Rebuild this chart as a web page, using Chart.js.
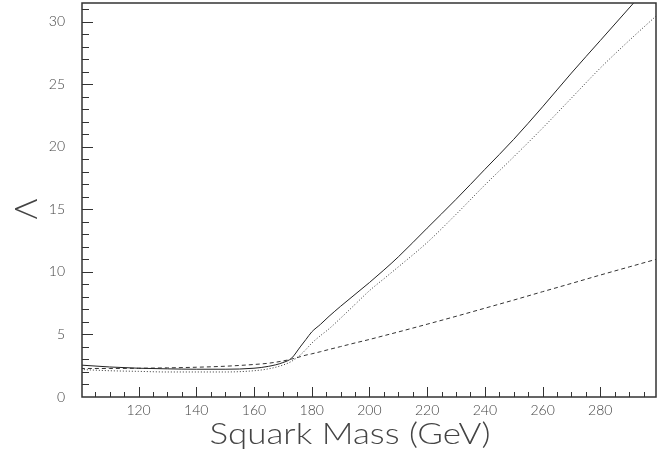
<!DOCTYPE html>
<html><head><meta charset="utf-8">
<script src="https://cdn.jsdelivr.net/npm/chart.js@4/dist/chart.umd.min.js"></script>
<style>html,body{margin:0;padding:0;background:#fff}canvas{display:block}</style>
</head><body>
<canvas id="c" width="672" height="462"></canvas>
<script>
// ---- data ----
const squarkMass   = [100,110,120,130,140,150,160,165,170,173,176,178,180,183,186,190,195,200,205,210,220,230,240,250,260,270,280,290,300];
const lambdaSolid  = [2.55,2.4,2.3,2.25,2.22,2.22,2.3,2.45,2.75,3.1,4.0,4.6,5.2,5.8,6.45,7.25,8.2,9.15,10.15,11.2,13.5,15.8,18.2,20.6,23.2,25.9,28.5,31.1,33.7];
const lambdaDotted = [2.2,2.1,2.05,2.0,2.0,2.0,2.1,2.25,2.55,2.85,3.35,3.8,4.3,4.9,5.45,6.3,7.4,8.5,9.45,10.4,12.35,14.6,16.95,19.2,21.5,23.9,26.3,28.5,30.6];
const lambdaDashed = [2.28,2.28,2.3,2.33,2.38,2.46,2.6,2.7,2.88,3.03,3.22,3.35,3.45,3.62,3.8,4.03,4.32,4.6,4.9,5.2,5.82,6.45,7.1,7.75,8.42,9.08,9.75,10.4,11.05];
const xTickLabels  = [120,140,160,180,200,220,240,260,280];
const yTickLabels  = [0,5,10,15,20,25,30];
const xTitle = 'Squark Mass (GeV)';
const yTitle = 'Λ';

const FONT = 'Lato, "Open Sans", sans-serif';
const pts = arr => squarkMass.map((m, i) => ({x: m, y: arr[i]}));

const framePlugin = {
  id: 'frame',
  afterDraw(chart) {
    const ctx = chart.ctx, ca = chart.chartArea;
    const xs = chart.scales.x, ys = chart.scales.y;
    ctx.save();
    ctx.strokeStyle = '#333';
    ctx.lineWidth = 1;
    for (let v = 105; v <= 295; v += 5) {
      const px = Math.round(xs.getPixelForValue(v)) + 0.5;
      const len = (v % 20 === 0) ? 10 : 5;
      ctx.beginPath(); ctx.moveTo(px, ca.bottom); ctx.lineTo(px, ca.bottom - len); ctx.stroke();
    }
    for (let v = 1; v <= 31; v++) {
      const py = Math.round(ys.getPixelForValue(v)) + 0.5;
      const len = (v % 5 === 0) ? 11 : 7;
      ctx.beginPath(); ctx.moveTo(ca.left, py); ctx.lineTo(ca.left + len, py); ctx.stroke();
    }
    ctx.lineWidth = 1.5;
    ctx.strokeRect(ca.left, ca.top, ca.right - ca.left, ca.bottom - ca.top);
    ctx.fillStyle = '#444';
    ctx.font = '300 29px ' + FONT;
    ctx.textAlign = 'center';
    ctx.textBaseline = 'alphabetic';
    const w = ctx.measureText(xTitle).width;
    ctx.save();
    ctx.translate(350, 444);
    ctx.scale(281 / w, 1);
    ctx.fillText(xTitle, 0, 0);
    ctx.restore();
    ctx.save();
    ctx.translate(27, 209);
    ctx.rotate(-Math.PI / 2);
    ctx.font = '300 32px ' + FONT;
    ctx.textBaseline = 'middle';
    ctx.fillText(yTitle, 0, 0);
    ctx.restore();
    ctx.restore();
  }
};

new Chart(document.getElementById('c'), {
  type: 'line',
  data: {
    datasets: [
      {data: pts(lambdaSolid),  borderColor: '#222', borderWidth: 1, pointRadius: 0, cubicInterpolationMode: 'monotone'},
      {data: pts(lambdaDotted), borderColor: '#333', borderWidth: 1, borderDash: [1, 2], pointRadius: 0, cubicInterpolationMode: 'monotone'},
      {data: pts(lambdaDashed), borderColor: '#333', borderWidth: 1, borderDash: [4, 3], pointRadius: 0, cubicInterpolationMode: 'monotone'}
    ]
  },
  options: {
    responsive: false,
    animation: false,
    devicePixelRatio: 1,
    layout: {padding: {top: 3, right: 16, left: 0, bottom: 0}},
    plugins: {legend: {display: false}, tooltip: {enabled: false}},
    scales: {
      x: {
        type: 'linear', min: 100.4, max: 299.3,
        grid: {display: false, drawTicks: false},
        border: {display: false},
        afterBuildTicks: s => { s.ticks = xTickLabels.map(v => ({value: v})); },
        afterFit: s => { s.height = 65; s.paddingLeft = 0; s.paddingRight = 0; },
        ticks: {padding: 5, maxRotation: 0, autoSkip: false, color: '#444', font: {family: FONT, size: 14, weight: 300}}
      },
      y: {
        type: 'linear', min: 0, max: 31.5,
        grid: {display: false, drawTicks: false},
        border: {display: false},
        afterBuildTicks: s => { s.ticks = yTickLabels.map(v => ({value: v})); },
        afterFit: s => { s.width = 82; s.paddingTop = 0; s.paddingBottom = 0; },
        ticks: {padding: 17, color: '#444', font: {family: FONT, size: 14, weight: 300}}
      }
    }
  },
  plugins: [framePlugin]
});
</script>
</body></html>
